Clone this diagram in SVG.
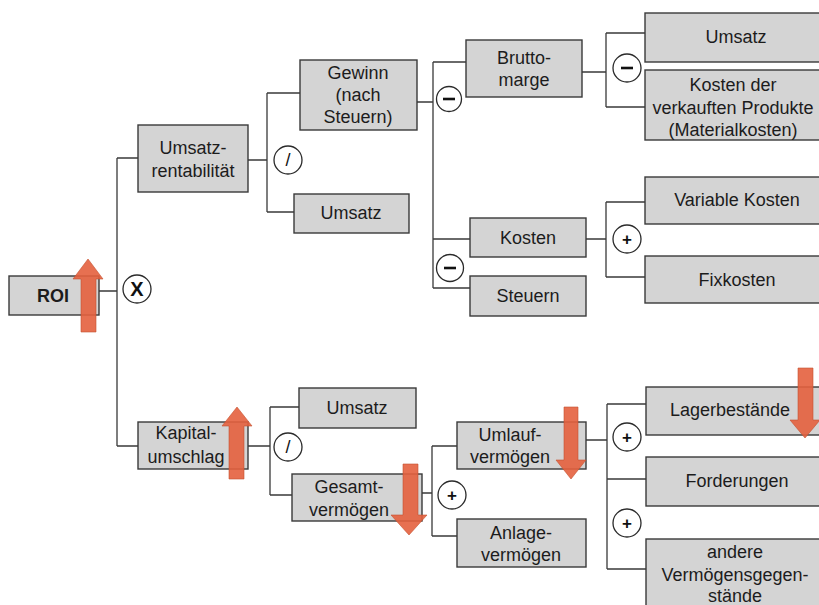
<svg xmlns="http://www.w3.org/2000/svg" width="819" height="605" viewBox="0 0 819 605">
  <style>
    .box { fill: #d4d4d4; stroke: #3a3a3a; stroke-width: 1.4; }
    .lbl { font-family: "Liberation Sans", Arial, sans-serif; font-size: 18px; fill: #1c1c1c; text-anchor: middle; }
    .bold { font-weight: bold; }
    .wire { fill: none; stroke: #3a3a3a; stroke-width: 1.3; }
    .op { fill: #ffffff; stroke: #2a2a2a; stroke-width: 1.3; }
    .sym { font-family: "Liberation Sans", Arial, sans-serif; font-size: 17px; font-weight: bold; fill: #111; text-anchor: middle; }
    .slash { font-weight: normal; font-size: 18px; }
    .bar { stroke: #111; stroke-width: 2.6; }
    .trend { fill: #e4603e; fill-opacity: 0.9; stroke: #c4502f; stroke-width: 0.6; }
  </style>

  <!-- tree connectors -->
  <g id="connectors" class="wire">
    <path d="M99 291 H117 M117 158 V446 M117 158 H138 M117 446 H138"/>
    <path d="M248 160 H267 M267 93 V212 M267 93 H300 M267 212 H294"/>
    <path d="M417 102 H433 M433 62 V288 M433 62 H466 M433 239 H470 M433 288 H470"/>
    <path d="M582 72 H606 M606 33 V107 M606 33 H645 M606 107 H645"/>
    <path d="M586 239 H606 M606 202 V277 M606 202 H645 M606 277 H645"/>
    <path d="M248 446 H270 M270 407 V495 M270 407 H299 M270 495 H292"/>
    <path d="M422 493 H432 M432 446 V536 M432 446 H457 M432 536 H457"/>
    <path d="M586 440 H607 M607 404 V569 M607 404 H646 M607 479 H646 M607 569 H646"/>
  </g>

  <!-- operators -->
  <g id="operators">
    <g id="op-mul"><circle class="op" cx="137" cy="289" r="14"/><text class="sym" x="137" y="296" style="font-size:20px">X</text></g>
    <g id="op-div1"><circle class="op" cx="288" cy="160" r="14"/><text class="sym slash" x="288" y="166">/</text></g>
    <g id="op-div2"><circle class="op" cx="288" cy="447" r="14"/><text class="sym slash" x="288" y="453">/</text></g>
    <g id="op-sub1"><circle class="op" cx="449" cy="99" r="12.5"/><line class="bar" x1="443" y1="99" x2="455" y2="99"/></g>
    <g id="op-sub2"><circle class="op" cx="627" cy="68" r="14"/><line class="bar" x1="621" y1="68" x2="633" y2="68"/></g>
    <g id="op-sub3"><circle class="op" cx="450" cy="268" r="13.5"/><line class="bar" x1="444" y1="268" x2="456" y2="268"/></g>
    <g id="op-add1"><circle class="op" cx="627" cy="239" r="14"/><text class="sym" x="627" y="245">+</text></g>
    <g id="op-add2"><circle class="op" cx="452" cy="495" r="14"/><text class="sym" x="452" y="501">+</text></g>
    <g id="op-add3"><circle class="op" cx="627" cy="437" r="14"/><text class="sym" x="627" y="443">+</text></g>
    <g id="op-add4"><circle class="op" cx="627" cy="523" r="14"/><text class="sym" x="627" y="529">+</text></g>
  </g>

  <!-- nodes -->
  <g id="roi"><rect class="box" x="9" y="276" width="90" height="39"/><text class="lbl bold" x="53" y="302">ROI</text></g>
  <g id="umsatzrentabilitaet"><rect class="box" x="138" y="125" width="110" height="67"/>
    <text class="lbl" x="193" y="154">Umsatz-</text><text class="lbl" x="193" y="177">rentabilität</text></g>
  <g id="kapitalumschlag"><rect class="box" x="138" y="422" width="110" height="47"/>
    <text class="lbl" x="186" y="439">Kapital-</text><text class="lbl" x="186" y="463">umschlag</text></g>
  <g id="gewinn"><rect class="box" x="300" y="60" width="117" height="70"/>
    <text class="lbl" x="358" y="79">Gewinn</text><text class="lbl" x="358" y="101">(nach</text><text class="lbl" x="358" y="123">Steuern)</text></g>
  <g id="umsatz1"><rect class="box" x="294" y="194" width="115" height="39"/><text class="lbl" x="351" y="219">Umsatz</text></g>
  <g id="umsatz2"><rect class="box" x="299" y="388" width="117" height="40"/><text class="lbl" x="357" y="414">Umsatz</text></g>
  <g id="gesamtvermoegen"><rect class="box" x="292" y="474" width="130" height="47"/>
    <text class="lbl" x="349" y="493">Gesamt-</text><text class="lbl" x="349" y="516">vermögen</text></g>
  <g id="bruttomarge"><rect class="box" x="466" y="40" width="116" height="57"/>
    <text class="lbl" x="524" y="64">Brutto-</text><text class="lbl" x="524" y="86">marge</text></g>
  <g id="kosten"><rect class="box" x="470" y="218" width="116" height="39"/><text class="lbl" x="528" y="244">Kosten</text></g>
  <g id="steuern"><rect class="box" x="470" y="276" width="116" height="40"/><text class="lbl" x="528" y="302">Steuern</text></g>
  <g id="umlaufvermoegen"><rect class="box" x="457" y="422" width="129" height="47"/>
    <text class="lbl" x="510" y="441">Umlauf-</text><text class="lbl" x="510" y="463">vermögen</text></g>
  <g id="anlagevermoegen"><rect class="box" x="457" y="519" width="129" height="48"/>
    <text class="lbl" x="521" y="539">Anlage-</text><text class="lbl" x="521" y="561">vermögen</text></g>
  <g id="umsatz3"><rect class="box" x="645" y="13" width="182" height="49"/><text class="lbl" x="736" y="43">Umsatz</text></g>
  <g id="kosten-produkte"><rect class="box" x="645" y="70" width="182" height="70"/>
    <text class="lbl" x="733" y="91">Kosten der</text><text class="lbl" x="733" y="114">verkauften Produkte</text><text class="lbl" x="733" y="136">(Materialkosten)</text></g>
  <g id="variable-kosten"><rect class="box" x="645" y="177" width="182" height="47"/><text class="lbl" x="737" y="206">Variable Kosten</text></g>
  <g id="fixkosten"><rect class="box" x="645" y="256" width="182" height="47"/><text class="lbl" x="737" y="286">Fixkosten</text></g>
  <g id="lagerbestaende"><rect class="box" x="646" y="387" width="182" height="48"/><text class="lbl" x="730" y="416">Lagerbestände</text></g>
  <g id="forderungen"><rect class="box" x="646" y="457" width="182" height="49"/><text class="lbl" x="737" y="487">Forderungen</text></g>
  <g id="andere"><rect class="box" x="646" y="539" width="182" height="80"/>
    <text class="lbl" x="735" y="558">andere</text><text class="lbl" x="735" y="581">Vermögensgegen-</text><text class="lbl" x="735" y="602">stände</text></g>

  <!-- trend arrows -->
  <g id="trends">
    <path class="trend" d="M81 332 V279 H73 L88 259 L103 279 H96 V332 Z"/>
    <path class="trend" d="M229 479 V426 H222 L237 407 L252 426 H244 V479 Z"/>
    <path class="trend" d="M403 464 V515 H391 L409 535 L427 515 H418 V464 Z"/>
    <path class="trend" d="M564 407 V460 H556 L571 479 L586 460 H578 V407 Z"/>
    <path class="trend" d="M798 368 V420 H790 L805 438 L820 420 H813 V368 Z"/>
  </g>
</svg>
